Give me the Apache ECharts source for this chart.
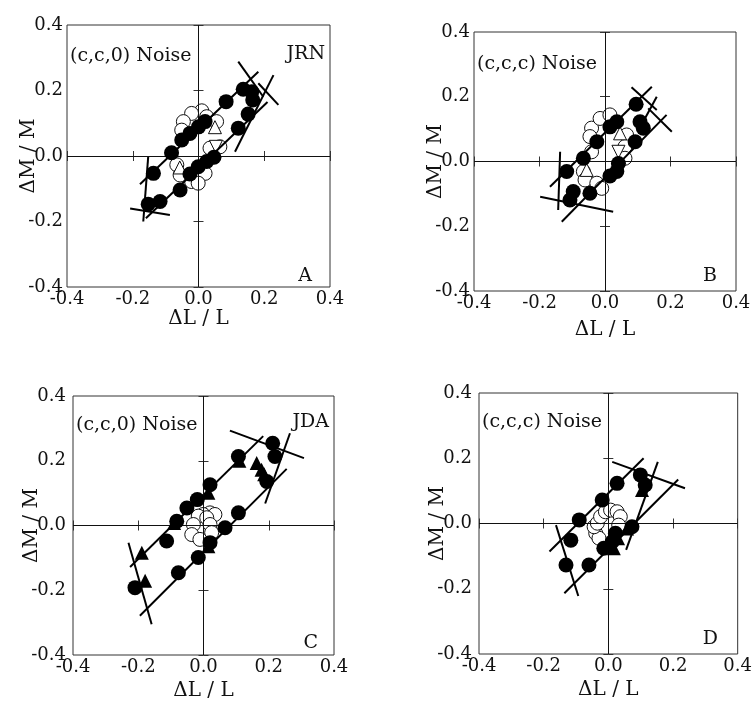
<!DOCTYPE html>
<html>
<head>
<meta charset="utf-8">
<script src="https://cdn.jsdelivr.net/npm/echarts@6/dist/echarts.min.js"></script>
<style>
html,body{margin:0;padding:0;background:#fff;}
#chart{width:755px;height:702px;}
</style>
</head>
<body>
<div id="chart"></div>
<script>
// ---------- tick labels ----------
var tickLabels = ['-0.4', '-0.2', '0.0', '0.2', '0.4'];
var xTitle = 'ΔL / L';
var yTitle = 'ΔM / M';

// ---------- Panel A (JRN, (c,c,0) noise) ----------
var filledA = [[-0.153,-0.147],[-0.117,-0.139],[-0.137,-0.053],[-0.082,0.010],[-0.051,0.049],[-0.026,0.069],[0.000,0.089],[0.020,0.105],[0.084,0.166],[0.136,0.204],[0.162,0.196],[0.165,0.171],[0.151,0.128],[0.121,0.085],[0.047,-0.004],[0.025,-0.017],[-0.001,-0.033],[-0.026,-0.055],[-0.056,-0.104]];
var openA = [[0.010,0.138],[-0.021,0.130],[0.025,0.120],[-0.046,0.105],[0.055,0.105],[-0.051,0.079],[0.065,0.028],[0.035,0.024],[-0.066,-0.027],[-0.056,-0.058],[0.020,-0.053],[-0.021,-0.078],[-0.001,-0.083]];
var triUpA = [[0.050,0.088],[-0.057,-0.035]];
var triDownA = [[0.053,0.028]];
var filledTriA = [];
var linesA = [
  [[-0.178,-0.086],[0.182,0.257]],
  [[-0.160,-0.190],[0.210,0.165]],
  [[-0.153,-0.002],[-0.168,-0.200]],
  [[-0.208,-0.160],[-0.087,-0.180]],
  [[0.121,0.288],[0.197,0.181]],
  [[0.228,0.247],[0.111,0.013]],
  [[0.182,0.222],[0.243,0.156]]
];

// ---------- Panel B (JRN, (c,c,c) noise) ----------
var filledB = [[0.095,0.177],[0.107,0.123],[0.117,0.103],[0.092,0.061],[0.041,-0.006],[0.036,-0.031],[0.015,-0.045],[-0.046,-0.098],[-0.097,-0.093],[-0.107,-0.119],[-0.117,-0.031],[-0.066,0.010],[-0.025,0.061],[0.015,0.107],[0.036,0.123]];
var openB = [[-0.041,0.103],[-0.015,0.133],[0.015,0.144],[-0.046,0.077],[-0.041,0.030],[0.066,0.082],[0.061,0.046],[0.061,0.010],[-0.066,-0.031],[-0.061,-0.057],[-0.025,-0.067],[-0.010,-0.083]];
var triUpB = [[-0.056,-0.026],[0.046,0.087]];
var triDownB = [[0.041,0.030]];
var filledTriB = [];
var linesB = [
  [[-0.168,-0.078],[0.143,0.231]],
  [[-0.132,-0.186],[0.188,0.144]],
  [[-0.137,0.030],[-0.143,-0.150]],
  [[-0.198,-0.109],[0.025,-0.155]],
  [[0.081,0.229],[0.158,0.159]],
  [[0.158,0.200],[0.122,0.133]],
  [[0.132,0.164],[0.204,0.092]]
];

// ---------- Panel C (JDA, (c,c,0) noise) ----------
var filledC = [[0.212,0.254],[0.219,0.213],[0.107,0.213],[0.020,0.126],[-0.019,0.080],[-0.051,0.054],[-0.082,0.013],[-0.113,-0.048],[-0.210,-0.192],[-0.077,-0.146],[-0.016,-0.099],[0.020,-0.053],[0.066,-0.007],[0.107,0.039],[0.194,0.136]];
var openC = [[0.020,0.039],[-0.001,0.034],[0.035,0.034],[-0.016,0.029],[0.010,0.024],[-0.031,0.003],[0.020,0.003],[0.025,-0.022],[-0.036,-0.028],[-0.011,-0.043]];
var triUpC = [];
var triDownC = [];
var filledTriC = [[0.163,0.193],[0.178,0.172],[0.186,0.158],[-0.179,-0.171],[-0.189,-0.084],[0.015,0.101],[0.015,-0.064],[0.110,0.200],[-0.090,0.008]];
var linesC = [
  [[-0.225,-0.128],[0.183,0.276]],
  [[-0.195,-0.279],[0.255,0.175]],
  [[-0.230,-0.053],[-0.159,-0.305]],
  [[0.081,0.293],[0.308,0.208]],
  [[0.265,0.285],[0.189,0.068]]
];

// ---------- Panel D (JDA, (c,c,c) noise) ----------
var filledD = [[0.099,0.149],[0.114,0.118],[0.027,0.123],[-0.019,0.072],[-0.090,0.011],[-0.116,-0.051],[-0.131,-0.127],[-0.060,-0.127],[-0.014,-0.076],[0.012,-0.056],[0.022,-0.030],[0.073,-0.010]];
var openD = [[-0.039,-0.030],[-0.029,-0.045],[-0.044,-0.010],[-0.034,0.001],[-0.024,0.021],[-0.009,0.036],[0.007,0.041],[0.027,0.036],[0.037,0.021],[0.032,-0.005]];
var triUpD = [];
var triDownD = [];
var filledTriD = [[0.104,0.103],[0.017,-0.076],[0.058,-0.015],[0.030,-0.045]];
var linesD = [
  [[-0.182,-0.086],[0.109,0.200]],
  [[-0.136,-0.214],[0.216,0.135]],
  [[-0.162,-0.005],[-0.093,-0.222]],
  [[0.012,0.189],[0.237,0.108]],
  [[0.153,0.189],[0.055,-0.081]]
];

var noiseLabels = ['(c,c,0) Noise', '(c,c,c) Noise', '(c,c,0) Noise', '(c,c,c) Noise'];
var subjectLabels = ['JRN', '', 'JDA', ''];
var panelLetters = ['A', 'B', 'C', 'D'];

// ---------- layout (pixels) ----------
var layout = [
  {left: 67,  top: 25,  w: 263, h: 262, lblMargin: 4, xGap: 22, yGap: 28, noiseY: 47, subjY: 45, letterY: 267, letterR: 18},
  {left: 474, top: 32,  w: 262, h: 259, lblMargin: 4, xGap: 29, yGap: 28, noiseY: 55, subjY: 52, letterY: 267, letterR: 19},
  {left: 73,  top: 396, w: 261, h: 260, lblMargin: 7, xGap: 26, yGap: 31, noiseY: 416, subjY: 413, letterY: 634, letterR: 16},
  {left: 479, top: 393, w: 261, h: 261, lblMargin: 7, xGap: 26, yGap: 31, noiseY: 413, subjY: 410, letterY: 630, letterR: 22}
];

var panels = [
  {filled: filledA, open: openA, triUp: triUpA, triDown: triDownA, filledTri: filledTriA, lines: linesA},
  {filled: filledB, open: openB, triUp: triUpB, triDown: triDownB, filledTri: filledTriB, lines: linesB},
  {filled: filledC, open: openC, triUp: triUpC, triDown: triDownC, filledTri: filledTriC, lines: linesC},
  {filled: filledD, open: openD, triUp: triUpD, triDown: triDownD, filledTri: filledTriD, lines: linesD}
];

var FONT = 'DejaVu Serif';
var grids = [], xAxes = [], yAxes = [], series = [], graphics = [];

function fmt(v, i) { return tickLabels[i]; }

panels.forEach(function (p, k) {
  var L = layout[k];
  grids.push({left: L.left, top: L.top, width: L.w, height: L.h, show: true,
    borderColor: '#333', borderWidth: 1, backgroundColor: 'transparent', containLabel: false});
  var base = {type: 'value', min: -0.4, max: 0.4, interval: 0.2, gridIndex: k,
    splitLine: {show: false}, axisLine: {show: false},
    axisTick: {show: true, inside: true, length: 5, lineStyle: {color: '#333', width: 1}}};
  var xb = xAxes.length;
  xAxes.push(Object.assign({}, base, {position: 'bottom',
    axisLabel: {show: true, formatter: fmt, fontFamily: FONT, fontSize: 18, color: '#111', margin: 3},
    name: xTitle, nameLocation: 'middle', nameGap: L.xGap, nameMoveOverlap: false,
    nameTextStyle: {fontFamily: FONT, fontSize: 20, color: '#111'}}));
  xAxes.push(Object.assign({}, base, {position: 'top', axisLabel: {show: false}}));
  var yb = yAxes.length;
  yAxes.push(Object.assign({}, base, {position: 'left',
    axisLabel: {show: true, formatter: fmt, fontFamily: FONT, fontSize: 18, color: '#111', margin: L.lblMargin},
    name: yTitle, nameLocation: 'middle', nameGap: L.yGap, nameRotate: 90, nameMoveOverlap: false,
    nameTextStyle: {fontFamily: FONT, fontSize: 20, color: '#111'}}));
  yAxes.push(Object.assign({}, base, {position: 'right', axisLabel: {show: false}}));

  var ax = {xAxisIndex: xb, yAxisIndex: yb};

  // zero reference lines
  series.push(Object.assign({type: 'scatter', data: [], silent: true, z: 1,
    markLine: {silent: true, symbol: 'none', animation: false, label: {show: false},
      lineStyle: {color: '#111', width: 1, type: 'solid', opacity: 1},
      data: [{xAxis: 0}, {yAxis: 0}]}}, ax));

  series.push(Object.assign({type: 'scatter', data: p.open, symbol: 'circle', symbolSize: 14, z: 2,
    itemStyle: {color: '#fff', borderColor: '#111', borderWidth: 1, opacity: 1}}, ax));
  series.push(Object.assign({type: 'scatter', data: p.triUp, symbol: 'triangle', symbolSize: 13, z: 3,
    itemStyle: {color: '#fff', borderColor: '#111', borderWidth: 1, opacity: 1}}, ax));
  series.push(Object.assign({type: 'scatter', data: p.triDown, symbol: 'triangle', symbolRotate: 180, symbolSize: 13, z: 3,
    itemStyle: {color: '#fff', borderColor: '#111', borderWidth: 1, opacity: 1}}, ax));
  p.lines.forEach(function (seg) {
    series.push(Object.assign({type: 'line', data: seg, symbol: 'none', z: 4, silent: true,
      lineStyle: {color: '#000', width: 2, opacity: 1}}, ax));
  });
  series.push(Object.assign({type: 'scatter', data: p.filledTri, symbol: 'triangle', symbolSize: 14, z: 5,
    itemStyle: {color: '#000', opacity: 1}}, ax));
  series.push(Object.assign({type: 'scatter', data: p.filled, symbol: 'circle', symbolSize: 15, z: 5,
    itemStyle: {color: '#000', opacity: 1}}, ax));

  graphics.push({type: 'text', x: L.left + 3, y: L.noiseY,
    style: {text: noiseLabels[k], font: '19px "' + FONT + '"', fill: '#111', textAlign: 'left', textBaseline: 'middle'}});
  if (subjectLabels[k]) {
    graphics.push({type: 'text', x: L.left + L.w - 5, y: L.subjY,
      style: {text: subjectLabels[k], font: '19px "' + FONT + '"', fill: '#111', textAlign: 'right', textBaseline: 'middle'}});
  }
  graphics.push({type: 'text', x: L.left + L.w - L.letterR, y: L.letterY,
    style: {text: panelLetters[k], font: '19px "' + FONT + '"', fill: '#111', textAlign: 'right', textBaseline: 'middle'}});
});

var chart = echarts.init(document.getElementById('chart'), null, {renderer: 'canvas'});
chart.setOption({
  animation: false,
  backgroundColor: '#fff',
  grid: grids,
  xAxis: xAxes,
  yAxis: yAxes,
  series: series,
  graphic: graphics
});
</script>
</body>
</html>
